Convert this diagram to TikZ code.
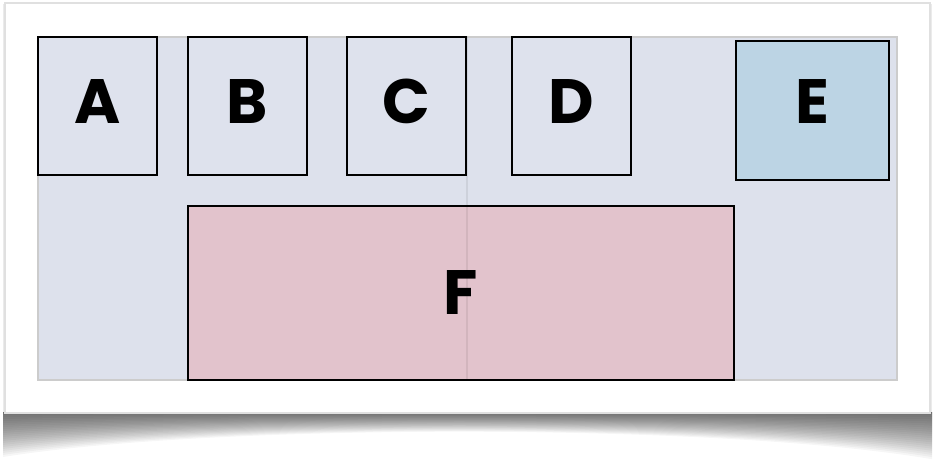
\documentclass[tikz,border=0pt]{standalone}
\usepackage{fontspec}
\setmainfont{Poppins}
\definecolor{panelbg}{HTML}{DDE1EC}
\definecolor{boxbg}{HTML}{DEE2ED}
\definecolor{bluebox}{HTML}{BCD4E4}
\definecolor{pinkbox}{HTML}{E2C3CC}
\tikzset{
  cell/.style={draw=black, line width=2.2pt, fill=boxbg, inner sep=0pt,
    font=\fontsize{47}{47}\selectfont\bfseries, text depth=#1},
  cell/.default=6.5pt
}
\begin{document}
\begin{tikzpicture}[x=0.75pt,y=-0.75pt]
\useasboundingbox (0,0) rectangle (935,470);
% soft curved shadow beneath the card
\foreach \k in {1,...,22}{
  \fill[black, opacity=0.034]
    (3,412) -- (932,412) -- (932,{413+2.1*\k})
    .. controls (720,{413+0.45*\k}) and (215,{413+0.45*\k}) .. (3,{413+2.0*\k}) -- cycle;
}
% side shading of the card
\foreach \k in {1,...,4}{
  \draw[black, opacity=0.04, line width={\k*0.9pt}] (5,4) -- (5,413);
  \draw[black, opacity=0.04, line width={\k*0.9pt}] (930,4) -- (930,413);
}
% white card
\node[draw=black!12, line width=1pt, fill=white, inner sep=0pt,
  minimum width={925*0.75pt}, minimum height={410*0.75pt}] (card) at (467.5,208) {};
% panel background
\node[draw=black!20, line width=0.8pt, fill=panelbg, inner sep=0pt,
  minimum width={859*0.75pt}, minimum height={343*0.75pt}] (panel) at (467.5,208.5) {};
% top row
\node[cell, minimum width={119*0.75pt}, minimum height={138*0.75pt}] (A) at (97.5,106) {A};
\node[cell, minimum width={119*0.75pt}, minimum height={138*0.75pt}] (B) at (247.5,106) {B};
\node[cell, minimum width={119*0.75pt}, minimum height={138*0.75pt}] (C) at (406.5,106) {C};
\node[cell, minimum width={119*0.75pt}, minimum height={138*0.75pt}] (D) at (571.5,106) {D};
\node[cell=13pt, fill=bluebox, minimum width={153*0.75pt}, minimum height={139*0.75pt}] (E) at (812.5,110.5) {E};
% wide bottom block
\node[cell=1pt, fill=pinkbox, minimum width={546*0.75pt}, minimum height={174*0.75pt}] (F) at (461,293) {F};
% faint vertical seam across the panel
\draw[black, opacity=0.07, line width=0.8pt] (panel.north) ++(-0.5,0) coordinate (seamtop)
  -- (seamtop |- panel.south);
\end{tikzpicture}
\end{document}
